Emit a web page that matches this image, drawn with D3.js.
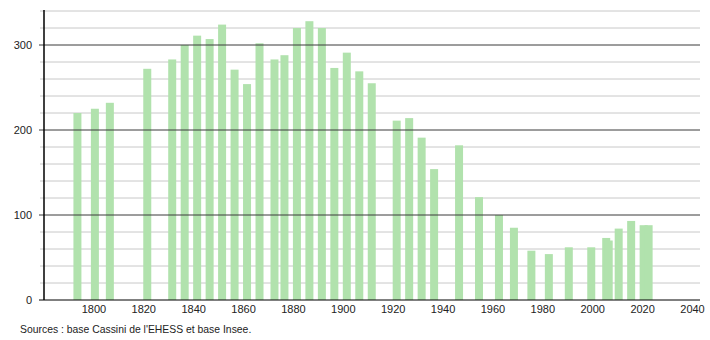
<!DOCTYPE html>
<html>
<head>
<meta charset="utf-8">
<script src="https://cdn.jsdelivr.net/npm/d3@7"></script>
<style>
  body { margin: 0; background: #fff; }
  svg { display: block; font-family: "Liberation Sans", Arial, sans-serif; }
</style>
</head>
<body>
<svg id="drawing_region"></svg>
<script>
// census years and population
const years = [1793, 1800, 1806, 1821, 1831, 1836, 1841, 1846, 1851, 1856,
               1861, 1866, 1872, 1876, 1881, 1886, 1891, 1896, 1901, 1906,
               1911, 1921, 1926, 1931, 1936, 1946, 1954, 1962, 1968, 1975,
               1982, 1990, 1999, 2005, 2006, 2010, 2015, 2020, 2022];
const population = [220, 225, 232, 272, 283, 300, 311, 307, 324, 271,
                    254, 302, 283, 288, 320, 328, 320, 273, 291, 269,
                    255, 211, 214, 191, 154, 182, 121, 100, 85, 58,
                    54, 62, 62, 73, 70, 84, 93, 88, 88];
const xTicks = [1800, 1820, 1840, 1860, 1880, 1900, 1920, 1940, 1960, 1980, 2000, 2020, 2040];
const yMajor = [0, 100, 200, 300];
const yMinor = d3.range(20, 341, 20).filter(v => v % 100 !== 0);
const source = "Sources : base Cassini de l'EHESS et base Insee.";

const config = {
    width: 710,
    height: 340,
    margin: {top: 11, right: 10, bottom: 40, left: 44}
};

const svg = d3.select('#drawing_region')
    .attr('width', config.width)
    .attr('height', config.height);

const inner_width = config.width - config.margin.left - config.margin.right;
const inner_height = config.height - config.margin.top - config.margin.bottom;

const chart = svg.append('g')
    .attr('transform', `translate(${config.margin.left}, ${config.margin.top})`);

const xscale = d3.scaleLinear()
    .domain([1780, 2043])
    .range([0, inner_width]);

const yscale = d3.scaleLinear()
    .domain([0, 340])
    .range([inner_height, 0]);

const barWidth = 8;

// minor grid lines
chart.selectAll('.minor')
    .data(yMinor)
    .enter()
    .append('line')
    .attr('x1', -4)
    .attr('x2', inner_width)
    .attr('y1', d => yscale(d))
    .attr('y2', d => yscale(d))
    .attr('stroke', '#c8c8c8')
    .attr('stroke-width', 1);

// bars
chart.selectAll('rect')
    .data(years)
    .enter()
    .append('rect')
    .attr('x', d => xscale(d) - barWidth / 2 + 1)
    .attr('width', barWidth)
    .attr('y', (d, i) => yscale(population[i]))
    .attr('height', (d, i) => inner_height - yscale(population[i]))
    .attr('fill', '#b1e2ad');

// major grid lines drawn over bars
chart.selectAll('.major')
    .data(yMajor)
    .enter()
    .append('line')
    .attr('x1', -5)
    .attr('x2', inner_width)
    .attr('y1', d => yscale(d))
    .attr('y2', d => yscale(d))
    .attr('stroke', d => d === 0 ? '#000' : '#3a3a3a')
    .attr('stroke-width', 1);

// y axis line
chart.append('line')
    .attr('x1', 0)
    .attr('x2', 0)
    .attr('y1', -1)
    .attr('y2', inner_height)
    .attr('stroke', '#000')
    .attr('stroke-width', 1.5);

// y labels
chart.selectAll('.ylabel')
    .data(yMajor)
    .enter()
    .append('text')
    .attr('x', -12)
    .attr('y', d => yscale(d) + 4)
    .attr('text-anchor', 'end')
    .attr('font-size', '11px')
    .attr('fill', '#222')
    .text(d => d);

// x labels
chart.selectAll('.xlabel')
    .data(xTicks)
    .enter()
    .append('text')
    .attr('x', d => xscale(d))
    .attr('y', inner_height + 13)
    .attr('text-anchor', 'middle')
    .attr('font-size', '11px')
    .attr('fill', '#222')
    .text(d => d);

svg.append('text')
    .attr('x', 20)
    .attr('y', 333)
    .attr('font-size', '10.4px')
    .attr('fill', '#222')
    .text(source);
</script>
</body>
</html>
